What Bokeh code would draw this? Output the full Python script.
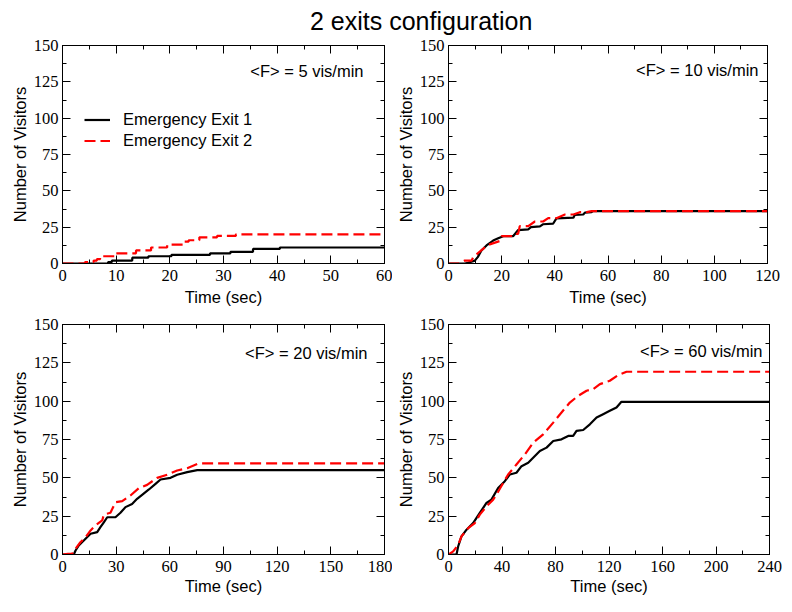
from bokeh.plotting import figure
from bokeh.models import (Range1d, LinearAxis, SingleIntervalTicker, Label, Legend, LegendItem, Div,
                          CustomJSTickFormatter)
from bokeh.layouts import column, row
from bokeh.embed import file_html
from bokeh.resources import INLINE

# ---------------- data ----------------
# Panel 1: <F> = 5 vis/min (step data)
t1_exit1 = [0, 8.5, 9.2, 13.0, 16.0, 20.3, 27.5, 31.3, 35.5, 40.5, 60]
n1_exit1 = [0, 1, 2, 4, 5, 6, 7, 8, 10, 11, 11]
t1_exit2 = [0, 4.2, 5.8, 6.4, 7.0, 10.0, 13.7, 16.5, 19.5, 22.5, 23.5, 25.5, 28.8, 32.3, 60]
n1_exit2 = [0, 1, 2, 3, 5, 7, 9, 11, 13, 15, 16, 18, 19, 20, 20]

# Panel 2: <F> = 10 vis/min
t2_exit1 = [0, 6.1, 7.4, 9.9, 11.0, 12.4, 14.3, 16.8, 18.7, 20.6, 24.3, 26.2, 30.0, 31.0, 34.4,
            35.5, 39.4, 40.6, 47.0, 47.5, 50.7, 51.3, 53.8, 54.4, 120]
n2_exit1 = [0, 0, 0.5, 2, 4.4, 8.9, 12.4, 15.8, 17.4, 18.8, 18.8, 23, 23.5, 25, 25.5,
            27, 27.5, 31, 31.5, 33.5, 33.7, 35, 35.3, 36, 36]
t2_exit2 = [0, 4.0, 5.0, 6.1, 8.7, 9.3, 11.0, 13.0, 14.3, 19.3, 20.0, 24.3, 25.0, 26.2, 26.8,
            30.0, 32.5, 35.6, 37.5, 40.6, 43.8, 47.0, 49.4, 52.0, 53.8, 120]
n2_exit2 = [0, 0, 1, 2, 2, 4.4, 7, 10, 12.4, 15.5, 18.8, 18.8, 20.4, 20.4, 25.7,
            25.7, 28.9, 28.9, 31.2, 31.2, 33.7, 33.7, 35.3, 35.3, 36, 36]

# Panel 3: <F> = 20 vis/min
t3_exit1 = [0, 6.3, 7.3, 9.1, 11.9, 15.7, 19.4, 21.2, 23.1, 25.0, 29.6, 32.4, 35.2, 38.9, 41.7,
            44.5, 48.3, 52.0, 54.8, 60.4, 64.1, 69.7, 75.3, 180]
n3_exit1 = [0, 0, 2.6, 5.9, 9.1, 13.5, 14.6, 17.8, 21, 24.3, 24.3, 27.2, 30.9, 33, 36.3,
            38.9, 42.4, 46.1, 48.9, 50, 52, 53.7, 55, 55]
t3_exit2 = [0, 3.0, 5.4, 7.3, 10.0, 12.9, 15.7, 18.4, 22.2, 23.1, 26.8, 29.6, 33.4, 38.0, 42.7,
            47.3, 52.9, 58.5, 64.1, 69.7, 75.3, 77.0, 180]
n3_exit2 = [0, 0.5, 0.6, 3.7, 8, 11.3, 15.7, 18.9, 22.2, 26, 27.2, 34.1, 34.8, 38.5, 43.3,
            45.4, 50, 52, 54.8, 56.3, 59.1, 59.4, 59.4]

# Panel 4: <F> = 60 vis/min
t4_exit1 = [0, 6.0, 7.2, 9.7, 13.5, 18.4, 23.4, 28.4, 32.1, 37.1, 42.1, 45.9, 50.8, 54.6, 59.6,
            63.3, 68.3, 73.3, 78.3, 84.5, 89.5, 93.2, 95.7, 100.7, 105.7, 110.7, 115.6, 120.6,
            125.6, 129.3, 240]
n4_exit1 = [0, 0, 5.2, 11.8, 16.2, 20.5, 27.1, 33.6, 35.8, 43.4, 47.8, 52.2, 53.3, 57.6, 59.8,
            63.1, 67.5, 69.7, 74, 75.1, 77.3, 77.3, 80.6, 81.2, 84.9, 89.3, 91.5, 93.7,
            95.9, 99.6, 99.6]
t4_exit2 = [0, 3.5, 7.2, 9.7, 14.7, 19.7, 23.4, 28.4, 33.4, 35.9, 40.9, 44.6, 50.8, 57.1, 63.3,
            70.8, 78.3, 84.5, 90.7, 97.0, 103.2, 108.2, 113.2, 120.6, 126.9, 133.1, 240]
n4_exit2 = [0, 2, 6.3, 11.8, 17.2, 20.5, 26, 31.4, 35.8, 39.1, 46.7, 52.2, 58.7, 65.3, 72.9,
            78.4, 86, 92.6, 99.1, 103.5, 106.8, 107.9, 111.1, 113.3, 117, 119.2, 119.2]

x_max = [60, 120, 180, 240]
x_step = [10, 20, 30, 40]
y_max = 150
y_step = 25
rate_labels = ["<F> = 5 vis/min", "<F> = 10 vis/min", "<F> = 20 vis/min", "<F> = 60 vis/min"]
series_names = ["Emergency Exit 1", "Emergency Exit 2"]
title_text = "2 exits configuration"

SANS = "Liberation Sans"
SERIF = "Liberation Serif"
RED = "#ff0000"


def style_axis(ax, show_labels=True):
    ax.axis_line_color = "black"
    ax.axis_line_width = 1
    ax.major_tick_line_color = "black"
    ax.minor_tick_line_color = "black"
    ax.major_tick_in = 8
    ax.major_tick_out = 0
    ax.minor_tick_in = 4
    ax.minor_tick_out = 0
    if show_labels:
        ax.major_label_text_font = SERIF
        ax.major_label_text_font_size = "16.5px"
        ax.major_label_text_color = "black"
        ax.axis_label_text_font = SANS
        ax.axis_label_text_font_size = "16.5px"
        ax.axis_label_text_font_style = "normal"
        ax.axis_label_text_color = "black"
    else:
        ax.formatter = CustomJSTickFormatter(code="return '';")
        ax.major_label_text_font_size = "1px"
        ax.major_label_standoff = 0


def make_panel(i, width, height, bl, br, bt, bb, tx1, ny1, tx2, ny2, step, lab_r, lab_t,
               xlab_standoff, legend=False):
    xm = x_max[i]
    p = figure(width=width, height=height, x_range=Range1d(0, xm), y_range=Range1d(0, y_max),
               output_backend="svg", toolbar_location=None,
               min_border_left=bl, min_border_right=br, min_border_top=bt, min_border_bottom=bb)
    p.xgrid.visible = False
    p.ygrid.visible = False
    p.outline_line_color = "black"
    p.background_fill_color = "white"
    p.border_fill_color = "white"

    p.xaxis.ticker = SingleIntervalTicker(interval=x_step[i], num_minor_ticks=2)
    p.yaxis.ticker = SingleIntervalTicker(interval=y_step, num_minor_ticks=2)
    p.xaxis.axis_label = "Time (sec)"
    p.yaxis.axis_label = "Number of Visitors"
    style_axis(p.xaxis[0])
    style_axis(p.yaxis[0])
    p.xaxis.major_label_standoff = 6
    p.xaxis.axis_label_standoff = xlab_standoff
    p.yaxis.major_label_standoff = 4
    p.yaxis.axis_label_standoff = 2

    top = LinearAxis(ticker=SingleIntervalTicker(interval=x_step[i], num_minor_ticks=2))
    style_axis(top, show_labels=False)
    p.add_layout(top, "above")
    right = LinearAxis(ticker=SingleIntervalTicker(interval=y_step, num_minor_ticks=2))
    style_axis(right, show_labels=False)
    p.add_layout(right, "right")

    if step:
        r1 = p.step(tx1, ny1, mode="after", line_color="black", line_width=2.2)
        r2 = p.step(tx2, ny2, mode="after", line_color=RED, line_width=2.2, line_dash="11 5")
    else:
        r1 = p.line(tx1, ny1, line_color="black", line_width=2.2)
        r2 = p.line(tx2, ny2, line_color=RED, line_width=2.2, line_dash="11 5")

    fw = width - bl - br
    fh = height - bt - bb
    lab = Label(x=xm - lab_r * xm / fw, y=y_max - lab_t * y_max / fh, text=rate_labels[i],
                text_align="right", text_baseline="middle", text_font=SANS,
                text_font_size="16.5px", text_color="black")
    p.add_layout(lab)

    if legend:
        lg = Legend(items=[LegendItem(label=series_names[0], renderers=[r1]),
                           LegendItem(label=series_names[1], renderers=[r2])],
                    location=(22, 112), border_line_alpha=0, background_fill_alpha=0,
                    padding=0, margin=0, spacing=0, glyph_width=26, glyph_height=21,
                    label_height=21, label_standoff=13, label_text_font=SANS,
                    label_text_font_size="16.5px", label_text_color="black")
        p.add_layout(lg)
    return p


p1 = make_panel(0, 392, 274, 62, 8, 9, 47, t1_exit1, n1_exit1, t1_exit2, n1_exit2, True, 21, 25, 4, legend=True)
p2 = make_panel(1, 392, 274, 56, 17, 9, 47, t2_exit1, n2_exit1, t2_exit2, n2_exit2, False, 9, 24, 4)
p3 = make_panel(2, 392, 294, 62, 8, 14, 50, t3_exit1, n3_exit1, t3_exit2, n3_exit2, False, 17, 28, 2)
p4 = make_panel(3, 392, 294, 56, 15, 14, 50, t4_exit1, n4_exit1, t4_exit2, n4_exit2, False, 7, 26, 2)

title = Div(text=('<div style="position:relative;left:305px;top:-1px;font-family:\'Liberation Sans\';'
                  'font-size:25px;white-space:nowrap;color:black;">' + title_text + '</div>'),
            width=784, height=26, styles={"overflow": "visible"})

layout = column(title, row(p1, p2), row(p3, p4))
open("out.html", "w").write(file_html(layout, INLINE))
